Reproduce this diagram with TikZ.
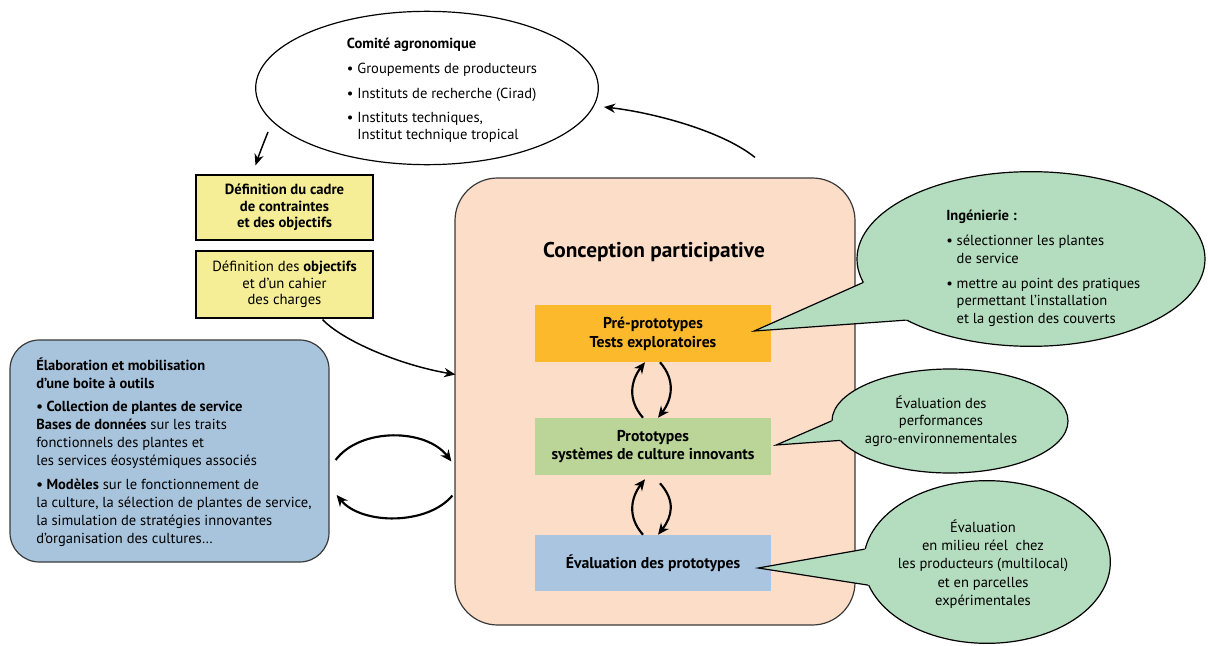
\documentclass[tikz,border=0pt]{standalone}
\usepackage{fontspec}
\setmainfont{PT Sans}
\usetikzlibrary{shapes.geometric,arrows.meta,calc}

\definecolor{paleyellow}{HTML}{F6EE96}
\definecolor{toolblue}{HTML}{A8C4DC}
\definecolor{peach}{HTML}{FCDDC8}
\definecolor{stepor}{HTML}{FBB92B}
\definecolor{stepgreen}{HTML}{BAD597}
\definecolor{stepblue}{HTML}{AAC5E0}
\definecolor{mint}{HTML}{B4DCBE}
\definecolor{edge}{HTML}{3A3A3A}

\begin{document}
\begin{tikzpicture}[x=0.75pt,y=-0.75pt,
  body/.style={font=\fontsize{10.9}{12.75}\selectfont, inner sep=0pt},
  ybox/.style={rectangle, draw=black, line width=0.9pt, fill=paleyellow,
    minimum width=132.75pt, align=center, font=\fontsize{11}{12.2}\selectfont},
  stepbox/.style={rectangle, minimum width=177pt, minimum height=42.75pt,
    align=center, font=\bfseries\fontsize{11.8}{14.2}\selectfont},
  bubble/.style={ellipse, draw=black, line width=0.9pt, fill=mint, inner sep=0pt},
  arr/.style={line width=1.1pt, -{Stealth[length=8.5pt,width=7pt]}},
  thickarr/.style={line width=1.6pt, -{Stealth[length=8.5pt,width=7.5pt]}},
]
\useasboundingbox (0,0) rectangle (1208,646);

% ---- committee ellipse
\node[ellipse, draw=black, line width=0.9pt, minimum width=257pt,
  minimum height=115pt, inner sep=0pt] (comite) at (427,88) {};
\node[body, align=left] (comitetxt) at (442,90) {%
  \textbf{Comité agronomique}\\[6pt]
  \textbullet\ Groupements de producteurs\\[6pt]
  \textbullet\ Instituts de recherche (Cirad)\\[5pt]
  \textbullet\ Instituts techniques,\\
  \hphantom{\textbullet\ }Institut technique tropical};

% ---- objective boxes
\node[ybox, minimum height=48.75pt] (cadre) at (284.5,207.5)
  {\textbf{Définition du cadre}\\\textbf{de contraintes}\\\textbf{et des objectifs}};
\node[ybox, minimum height=50.25pt] (cahier) at (284.5,284.5)
  {Définition des \textbf{objectifs}\\et d’un cahier\\des charges};

% ---- toolbox
\node[rectangle, rounded corners=22pt, draw=edge, line width=0.9pt, fill=toolblue,
  minimum width=239.25pt, minimum height=166.5pt] (outils) at (169.5,451) {};
\node[body, anchor=west, align=left, font=\fontsize{10.9}{13.5}\selectfont]
  (outilstxt) at (36,452) {%
  \textbf{Élaboration et mobilisation}\\
  \textbf{d’une boite à outils}\\[4pt]
  \textbf{\textbullet\ Collection de plantes de service}\\
  \textbf{Bases de données} sur les traits\\
  fonctionnels des plantes et\\
  les services éosystémiques associés\\[4pt]
  \textbf{\textbullet\ Modèles} sur le fonctionnement de\\
  la culture, la sélection de plantes de service,\\
  la simulation de stratégies innovantes\\
  d’organisation des cultures…};

% ---- participative design frame
\node[rectangle, rounded corners=32pt, draw=edge, line width=0.9pt, fill=peach,
  minimum width=300pt, minimum height=335.25pt] (conc) at (655,401.5) {};
\node[inner sep=0pt, font=\bfseries\fontsize{16}{18}\selectfont]
  (conctitle) at (654,252) {Conception participative};

\node[stepbox, fill=stepor] (preproto) at (653,333.5)
  {Pré-prototypes\\Tests exploratoires};
\node[stepbox, fill=stepgreen] (proto) at (653,446.5)
  {Prototypes\\systèmes de culture innovants};
\node[stepbox, fill=stepblue, minimum height=42pt] (evalproto) at (653,563)
  {Évaluation des prototypes};

% ---- loops between the steps
\draw[thickarr] ($(proto.north)+(-10,0)$) .. controls +(-16,-18) and +(-14,18) ..
  ($(preproto.south)+(-8,0)$);
\draw[thickarr] ($(preproto.south)+(7,0)$) .. controls +(16,18) and +(14,-18) ..
  ($(proto.north)+(5,0)$);
\draw[thickarr] ($(evalproto.north)+(-10,0)$) .. controls +(-16,-18) and +(-14,18) ..
  ($(proto.south)+(-8,4)$);
\draw[thickarr] ($(proto.south)+(7,8)$) .. controls +(16,18) and +(14,-18) ..
  ($(evalproto.north)+(5,0)$);

% ---- exchanges with the toolbox
\draw[thickarr] ($(outils.east)+(6,9)$) .. controls +(25,-33) and +(-25,-33) ..
  ($(conc.west)+(-3,60)$);
\draw[thickarr] ($(conc.west)+(-2,94)$) .. controls +(-25,30) and +(25,30) ..
  ($(outils.east)+(7,44)$);

% ---- cycle arrows
\draw[arr] ($(comite.center)+(-159,44)$) .. controls +(-4,10) and +(4,-12) ..
  ($(cadre.north)+(-29,-9)$);
\draw[arr] ($(conc.north)+(100,-20)$) .. controls +(-35,-28) and +(45,5) ..
  ($(comite.east)+(5,19)$);
\draw[arr] ($(cahier.south east)+(-51,1)$) .. controls +(20,21) and +(-56,-9.5) ..
  ($(conc.west)+(1,-27)$);

% ---- speech bubbles
\node[bubble, minimum width=261pt, minimum height=131pt] (bingenierie) at (1031,259) {};
\coordinate (tipA) at ($(preproto.east)+(-17,-2.5)$);
\fill[mint] ($(bingenierie.188)!0.1!(bingenierie.center)$) -- (bingenierie.188) -- (tipA)
  -- (bingenierie.206) -- ($(bingenierie.206)!0.1!(bingenierie.center)$) -- cycle;
\draw[line width=0.9pt, line join=miter] (bingenierie.188) -- (tipA) -- (bingenierie.206);
\node[body, anchor=west, align=left, font=\fontsize{10.9}{13}\selectfont] (ingtxt)
  at (946,268) {%
  \textbf{Ingénierie :}\\[6pt]
  \textbullet\ sélectionner les plantes\\
  \hphantom{\textbullet\ }de service\\[6pt]
  \textbullet\ mettre au point des pratiques\\
  \hphantom{\textbullet\ }permettant l’installation\\
  \hphantom{\textbullet\ }et la gestion des couverts};

\node[bubble, minimum width=177pt, minimum height=78pt] (bperf) at (950,421) {};
\coordinate (tipB) at ($(proto.east)+(5,-1.5)$);
\fill[mint] ($(bperf.180)!0.1!(bperf.center)$) -- (bperf.180) -- (tipB)
  -- (bperf.190) -- ($(bperf.190)!0.1!(bperf.center)$) -- cycle;
\draw[line width=0.9pt, line join=miter] (bperf.180) -- (tipB) -- (bperf.190);
\node[body, align=center, font=\fontsize{10.9}{13}\selectfont] (perftxt) at (941,421)
  {Évaluation des\\performances\\agro-environnementales};

\node[bubble, minimum width=185pt, minimum height=122pt] (bterrain) at (987,562) {};
\coordinate (tipC) at ($(evalproto.east)+(-13,5)$);
\fill[mint] ($(bterrain.174)!0.1!(bterrain.center)$) -- (bterrain.174) -- (tipC)
  -- (bterrain.191) -- ($(bterrain.191)!0.1!(bterrain.center)$) -- cycle;
\draw[line width=0.9pt, line join=miter] (bterrain.174) -- (tipC) -- (bterrain.191);
\node[body, align=center, font=\fontsize{10.9}{13.7}\selectfont] (terraintxt) at (983,564)
  {Évaluation\\en milieu réel\ \ chez\\les producteurs (multilocal)\\et en parcelles\\expérimentales};

\end{tikzpicture}
\end{document}
